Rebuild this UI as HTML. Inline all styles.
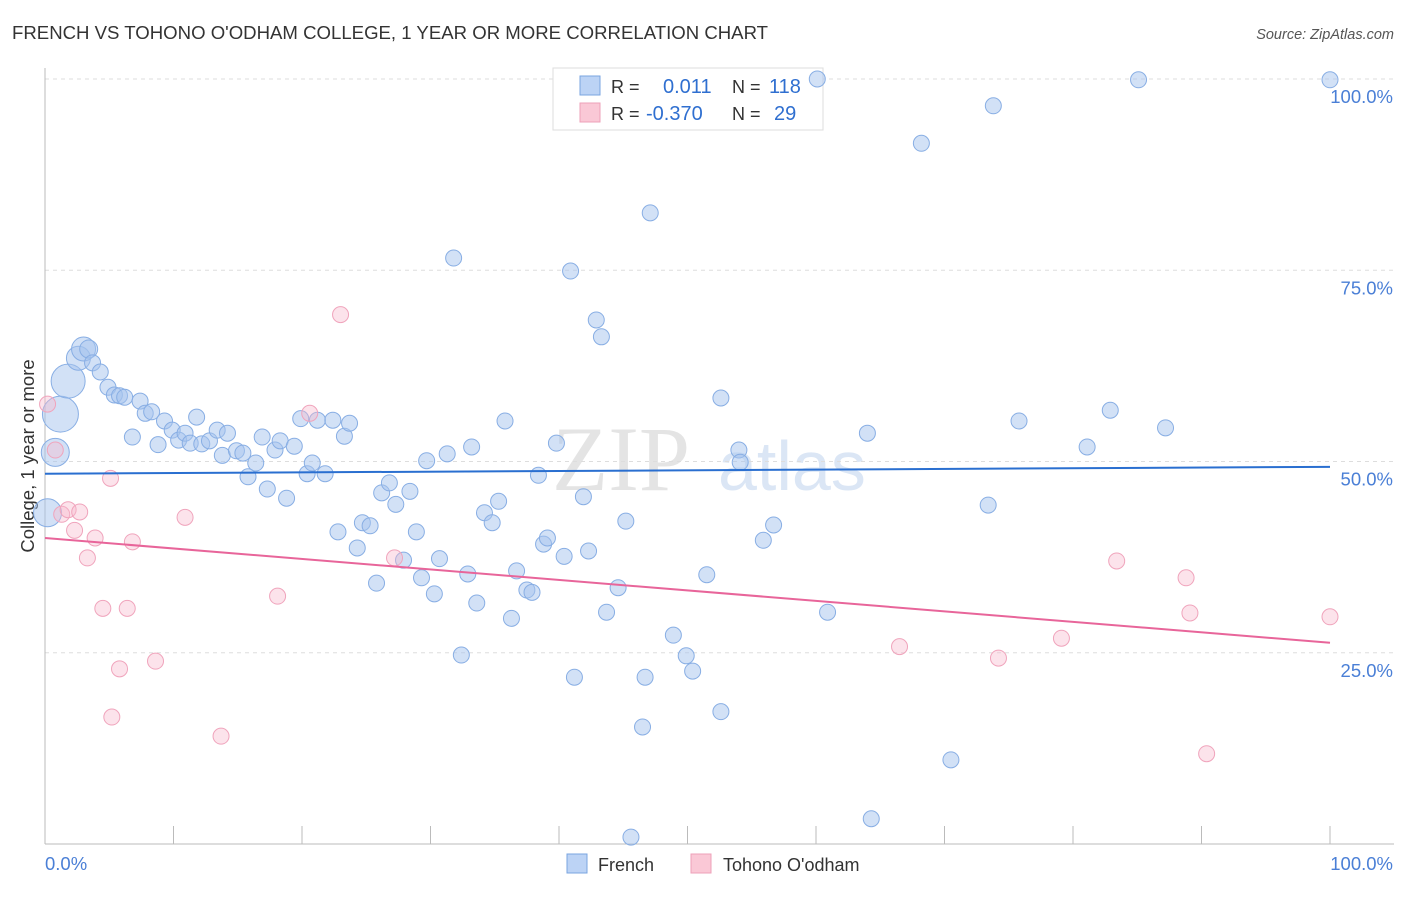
<!DOCTYPE html>
<html><head><meta charset="utf-8"><style>
body{margin:0;background:#fff;font-family:"Liberation Sans",sans-serif}
</style></head><body>
<svg id="c" width="1406" height="892" xmlns="http://www.w3.org/2000/svg" style="font-family:'Liberation Sans',sans-serif">
<text x="12" y="39" font-size="18.6" fill="#333">FRENCH VS TOHONO O'ODHAM COLLEGE, 1 YEAR OR MORE CORRELATION CHART</text>
<text x="1394" y="39" font-size="14.5" fill="#555" text-anchor="end" font-style="italic">Source: ZipAtlas.com</text>
<text x="690" y="490" font-size="92" fill="#e4e4e4" text-anchor="end" font-family="Liberation Serif">ZIP</text>
<text x="718" y="490" font-size="70" fill="#dbe6f5">atlas</text>
<text transform="translate(34,456) rotate(-90)" font-size="18.5" fill="#333" text-anchor="middle">College, 1 year or more</text>
<g id="grid"></g>
<g>
<rect x="553" y="68" width="270" height="62" fill="#fff" stroke="#ddd"/>
<rect x="580" y="76" width="20" height="19" fill="#bcd3f5" stroke="#7aa5e0"/>
<rect x="580" y="103" width="20" height="19" fill="#fac8d6" stroke="#eea0b8"/>
</g>
<g id="pts"></g><g id="lines"></g>
<g>
<text x="611" y="93" font-size="18" fill="#333">R =</text><text x="663" y="93" font-size="20" fill="#2f6fd0">0.011</text>
<text x="732" y="93" font-size="18" fill="#333">N =</text><text x="769" y="93" font-size="20" fill="#2f6fd0">118</text>
<text x="611" y="120" font-size="18" fill="#333">R =</text><text x="646" y="120" font-size="20" fill="#2f6fd0">-0.370</text>
<text x="732" y="120" font-size="18" fill="#333">N =</text><text x="774" y="120" font-size="20" fill="#2f6fd0">29</text>
</g>
<g>
<rect x="567" y="854" width="20" height="19" fill="#bcd3f5" stroke="#7aa5e0"/>
<text x="598" y="871" font-size="18" fill="#333">French</text>
<rect x="691" y="854" width="20" height="19" fill="#fac8d6" stroke="#eea0b8"/>
<text x="723" y="871" font-size="18" fill="#333">Tohono O'odham</text>
</g>
</svg>
<script>
const blueX=[0.2,0.8,1.2,1.8,2.6,3.0,3.4,3.7,4.3,4.9,5.4,5.8,6.2,7.4,7.8,8.3,6.8,8.8,9.3,9.9,10.4,10.9,11.3,11.8,12.2,12.8,13.4,13.8,14.2,14.9,15.4,15.8,16.4,16.9,17.3,17.9,18.3,18.8,19.4,19.9,20.4,20.8,21.2,21.8,22.4,22.8,23.3,23.7,24.3,24.7,25.3,25.8,26.2,26.8,27.3,27.9,28.4,28.9,29.3,29.7,30.3,30.7,31.3,31.8,32.4,32.9,33.2,33.6,34.2,34.8,35.3,35.8,36.3,36.7,37.5,37.9,38.4,38.8,39.1,39.8,40.4,40.9,41.2,41.9,42.3,42.9,43.3,43.7,44.6,45.2,45.6,46.5,46.7,47.1,48.9,49.9,50.4,51.5,52.6,52.6,54.0,54.1,55.9,56.7,60.1,60.9,64.0,64.3,68.2,70.5,73.4,73.8,75.8,81.1,82.9,85.1,87.2,100];
const blueY=[43.3,51.2,56.2,60.5,63.5,64.7,64.7,62.9,61.7,59.7,58.7,58.6,58.4,57.9,56.3,56.5,53.2,52.2,55.3,54.1,52.8,53.7,52.4,55.8,52.3,52.7,54.1,50.8,53.7,51.4,51.1,48.0,49.8,53.2,46.4,51.5,52.7,45.2,52.0,55.6,48.4,49.8,55.4,48.4,55.4,40.8,53.3,55.0,38.7,42.0,41.6,34.1,45.9,47.2,44.4,37.1,46.1,40.8,34.8,50.1,32.7,37.3,51.0,76.6,24.7,35.3,51.9,31.5,43.3,42.0,44.8,55.3,29.5,35.7,33.2,32.9,48.2,39.2,40.0,52.4,37.6,74.9,21.8,45.4,38.3,68.5,66.3,30.3,33.5,42.2,0.9,15.3,21.8,82.5,27.3,24.6,22.6,35.2,17.3,58.3,51.5,49.9,39.7,41.7,100,30.3,53.7,3.3,91.6,11.0,44.3,96.5,55.3,51.9,56.7,99.9,54.4,99.9];
const blueSize=[14,14,18,17,12,12,9];
const pinkX=[0.2,0.8,1.3,1.8,2.3,2.7,3.3,3.9,4.5,5.1,5.2,5.8,6.4,6.8,8.6,10.9,13.7,18.1,20.6,23.0,27.2,66.5,74.2,79.1,83.4,88.8,89.1,90.4,100];
const pinkY=[57.5,51.5,43.1,43.7,41.0,43.4,37.4,40.0,30.8,47.8,16.6,22.9,30.8,39.5,23.9,42.7,14.1,32.4,56.3,69.2,37.4,25.8,24.3,26.9,37.0,34.8,30.2,11.8,29.7];
const blueTrend=[48.4,49.3];
const pinkTrend=[40.0,26.3];
const yTicks=[25,50,75,100];
const yTickLabels=["25.0%","50.0%","75.0%","100.0%"];
const xTicks=[0,10,20,30,40,50,60,70,80,90,100];
const NS="http://www.w3.org/2000/svg";
const sx=v=>45+v*12.85, sy=v=>844-v*7.65;
function mk(t,a,p){const e=document.createElementNS(NS,t);for(const k in a)e.setAttribute(k,a[k]);p.appendChild(e);return e;}
const g=document.getElementById('grid');
yTicks.forEach((t,i)=>{
 const l=mk('line',{x1:45,x2:1394,y1:sy(t),y2:sy(t),stroke:'#ddd','stroke-dasharray':'4,4'},g);
 
 
 const tx=mk('text',{x:1393,y:sy(t)+24,'font-size':18.5,fill:'#4a7fd6','text-anchor':'end'},g);
 tx.textContent=yTickLabels[i];
 
 
});
const ax=mk('line',{x1:45,x2:1394,y1:844,y2:844,stroke:'#bbb'},g);


const ay=mk('line',{x1:45,x2:45,y1:68,y2:844,stroke:'#bbb'},g);


xTicks.forEach(t=>{
 const l=mk('line',{x1:sx(t),x2:sx(t),y1:826,y2:844,stroke:'#bbb'},g);
 
 
});
[["0.0%",45,'start'],["100.0%",1393,'end']].forEach(d=>{
 const tx=mk('text',{x:d[1],y:870,'font-size':18.5,fill:'#4a7fd6','text-anchor':d[2]},g);
 tx.textContent=d[0];
 
 
});
const p=document.getElementById('pts');
blueX.forEach((x,i)=>{
 const c=mk('circle',{cx:sx(x),cy:sy(blueY[i]),r:blueSize[i]||8,fill:'rgba(165,195,238,0.5)',stroke:'#88aee4','stroke-width':1},p);
 
 
});
pinkX.forEach((x,i)=>{
 const c=mk('circle',{cx:sx(x),cy:sy(pinkY[i]),r:8,fill:'rgba(248,185,205,0.4)',stroke:'#f0a4bc','stroke-width':1},p);
 
 
});
const L=document.getElementById('lines');
const b=mk('line',{x1:sx(0),x2:sx(100),y1:sy(blueTrend[0]),y2:sy(blueTrend[1]),stroke:'#2a6fd0','stroke-width':2},L);


const pk=mk('line',{x1:sx(0),x2:sx(100),y1:sy(pinkTrend[0]),y2:sy(pinkTrend[1]),stroke:'#e8659a','stroke-width':2},L);


</script>
</body></html>
